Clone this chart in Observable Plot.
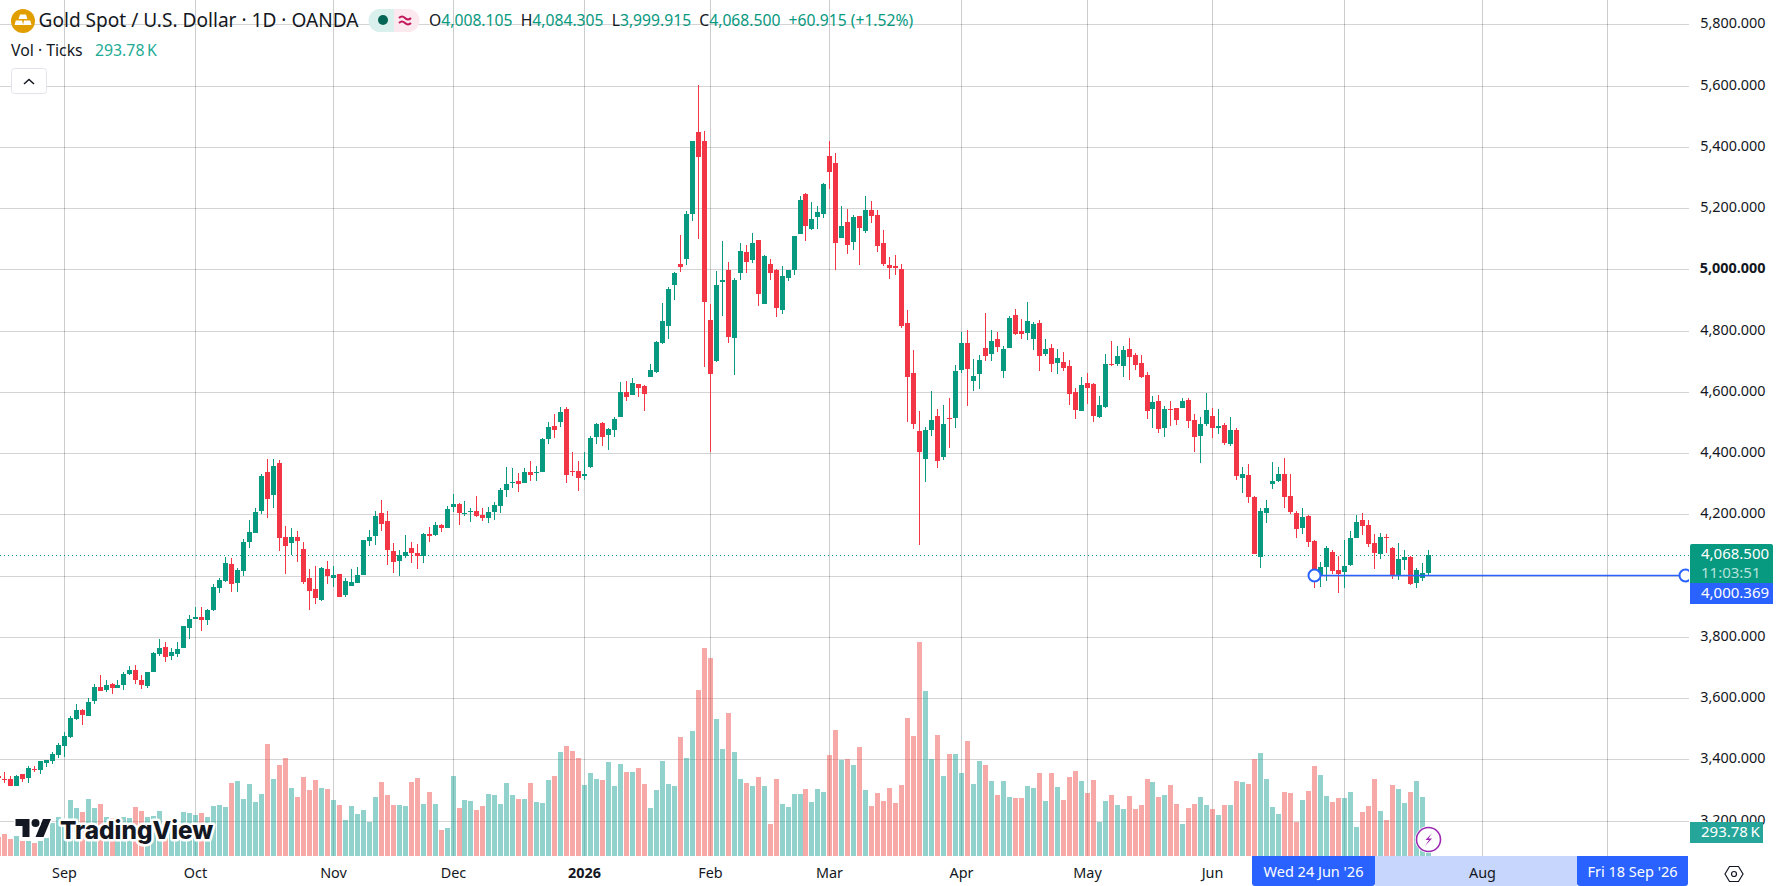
<!DOCTYPE html>
<html><head><meta charset="utf-8">
<script src="https://cdn.jsdelivr.net/npm/d3@7"></script>
<script src="https://cdn.jsdelivr.net/npm/@observablehq/plot@0.6"></script>
<style>
html,body{margin:0;padding:0;background:#fff;width:1776px;height:886px;overflow:hidden;font-family:"Noto Sans",sans-serif;color:#131722}
#wrap{position:relative;width:1776px;height:886px;overflow:hidden}
#chart{position:absolute;left:0;top:0;z-index:1}
#chart svg{background:transparent;display:block}
.ov{position:absolute;white-space:nowrap;z-index:2}
.band{position:absolute;z-index:0;left:1375px;top:856px;width:202px;height:30px;background:#c7d6fc}
.pill{position:absolute;z-index:2;top:856px;height:30px;line-height:30px;background:#2962ff;color:#fff;font-size:14.5px;text-align:center;border-radius:0 0 3px 3px}
.tag{position:absolute;z-index:2;left:1690px;color:#fff;font-size:15px;padding-left:11px;box-sizing:border-box;white-space:nowrap}
</style></head><body>
<div id="wrap">
<div class="band"></div>
<div id="chart"></div>

<svg class="ov" style="left:11px;top:9px" width="24" height="24" viewBox="0 0 24 24"><circle cx="12" cy="12" r="12" fill="#e09e00"/><path d="M9 5.500h6l1.400 4.500H7.600z M4.800 11.500h6.300l1 4.500H3.600z M13 11.500h6.200l1.300 4.500H12z" fill="#fff"/></svg>
<div class="ov" style="left:38.500px;top:8px;font-size:19.100px;line-height:24px">Gold Spot / U.S. Dollar · 1D · OANDA</div>
<svg class="ov" style="left:369px;top:9px;overflow:visible" width="50" height="23" viewBox="0 0 50 23"><path d="M11 0H25V23H11A11 11 0 0 1 11 0Z" fill="#d9f0ec"/><path d="M25 0H39A11 11 0 0 1 39 23H25Z" fill="#fce8ef"/><circle cx="14" cy="11" r="5" fill="#056656"/><path d="M30 9q3-3 6 0t6 0M30 14q3-3 6 0t6 0" fill="none" stroke="#c2185b" stroke-width="2"/></svg>
<div class="ov" style="left:429px;top:9px;font-size:15.700px;line-height:22px;color:#089981"><span style="color:#131722">O</span>4,008.105&nbsp;&nbsp;<span style="color:#131722">H</span>4,084.305&nbsp;&nbsp;<span style="color:#131722">L</span>3,999.915&nbsp;&nbsp;<span style="color:#131722">C</span>4,068.500&nbsp;&nbsp;+60.915 (+1.52%)</div>
<div class="ov" style="left:11px;top:39px;font-size:15.800px;line-height:22px">Vol · Ticks</div>
<div class="ov" style="left:95px;top:39px;font-size:15.800px;line-height:22px;color:#22ab94">293.78&#8201;K</div>
<svg class="ov" style="left:11px;top:68px" width="36" height="26" viewBox="0 0 36 26"><rect x=".5" y=".5" width="35" height="25" rx="3" fill="#fff" stroke="#e0e3eb"/><path d="M13 16l5-4.500L23 16" fill="none" stroke="#131722" stroke-width="1.500"/></svg>

<svg class="ov" style="left:15px;top:815px;overflow:visible" width="37" height="28" viewBox="0 0 36 28"><path d="M14 22H7V11H0V4h14v18zM28 22h-8l7.500-18h8L28 22z" fill="#131722" stroke="#fff" stroke-width="3" paint-order="stroke"/><circle cx="20" cy="8" r="4" fill="#131722" stroke="#fff" stroke-width="3" paint-order="stroke"/></svg>
<svg class="ov" style="left:58px;top:811px;overflow:visible" width="160" height="40"><text x="2" y="28" font-family="Inter" font-weight="800" font-size="24.300" fill="#131722" stroke="#fff" stroke-width="5" stroke-linejoin="round" paint-order="stroke">TradingView</text></svg>

<svg class="ov" style="left:1414px;top:825px" width="29" height="29" viewBox="0 0 29 29"><circle cx="14.500" cy="14.500" r="13.500" fill="#fff"/><circle cx="14.500" cy="14.500" r="12" fill="#fff" stroke="#9c27b0" stroke-width="1.600"/><path d="M18 8l-6.500 7H15l-4 6 7-7.500h-3.500z" fill="#9c27b0"/></svg>

<div class="tag" style="top:544px;height:39px;width:83px;background:#089981;border-radius:2px 2px 0 0;line-height:19px;padding-top:0">4,068.500<br><span style="color:#b5e2da">11:03:51</span></div>
<div class="tag" style="top:583px;height:21px;width:83px;background:#2962ff;line-height:18px">4,000.369</div>
<div class="tag" style="top:822px;height:21px;width:73px;background:#26a69a;line-height:19px">293.78&#8201;K</div>

<div class="pill" style="left:1252px;width:123px">Wed 24 Jun '26</div>
<div class="pill" style="left:1577px;width:111px">Fri 18 Sep '26</div>
<svg class="ov" style="left:1724px;top:864px" width="20" height="20" viewBox="0 0 20 20"><path d="M5.500 2.500h9L19 10l-4.500 7.500h-9L1 10z" fill="none" stroke="#131722" stroke-width="1.200"/><circle cx="10" cy="10" r="2.500" fill="none" stroke="#131722" stroke-width="1.200"/></svg>
</div>
<script>
const opens=[3345,
3336,3334,3312,3351,3338,3369,3365,3389,3394,3414,
3443,3472,3531,3561,3541,3590,3636,3626,3646,3633,
3642,3678,3691,3659,3639,3685,3744,3767,3737,3744,
3763,3829,3858,3865,3855,3888,3960,3983,4038,3976,
4015,4110,4139,4211,4339,4264,4368,4126,4107,4126,
4087,3992,3956,3920,4022,3992,4005,3937,3966,3976,
4002,4113,4130,4205,4179,4081,4048,4064,4090,4074,
4064,4136,4133,4166,4156,4224,4234,4201,4208,4211,
4198,4188,4208,4227,4280,4303,4310,4303,4339,4336,
4339,4447,4489,4502,4544,4342,4342,4326,4355,4453,
4499,4460,4476,4518,4600,4590,4626,4620,4649,4665,
4760,4815,4949,5017,5034,5180,5448,5418,4835,4701,
4959,4998,4776,4988,5056,5030,5096,4887,5017,4998,
4867,4972,4998,5115,5246,5131,5171,5180,5370,5347,
5102,5154,5089,5174,5125,5193,5177,5086,5014,5011,
5001,4824,4661,4471,4380,4475,4520,4386,4514,4514,
4670,4759,4635,4657,4742,4723,4772,4667,4742,4850,
4798,4791,4772,4824,4723,4742,4693,4697,4683,4599,
4537,4628,4625,4517,4550,4690,4690,4683,4739,4719,
4693,4654,4543,4569,4481,4543,4546,4546,4572,4507,
4455,4494,4520,4481,4491,4429,4475,4318,4328,4256,
4060,4203,4298,4308,4331,4259,4203,4155,4194,4112,
4001,4027,4077,4018,4012,4035,4123,4182,4165,4106,
4070,4126,4090,4002,4051,4061,3976,3992,4008.105];
const highs=[3350,
3358,3345,3350,3351,3378,3378,3394,3399,3423,3453,
3490,3541,3580,3565,3600,3646,3675,3659,3648,3659,
3685,3705,3708,3675,3685,3750,3793,3783,3763,3783,
3835,3871,3898,3898,3891,3973,3992,4061,4058,4025,
4119,4182,4221,4332,4381,4381,4378,4162,4156,4146,
4110,4022,4032,4028,4048,4032,4005,3992,4022,4028,
4117,4149,4211,4247,4211,4107,4084,4133,4110,4104,
4139,4159,4176,4169,4228,4266,4237,4244,4221,4260,
4221,4224,4240,4286,4355,4352,4336,4352,4375,4359,
4450,4502,4528,4551,4551,4404,4375,4404,4456,4499,
4502,4483,4518,4632,4636,4646,4626,4623,4691,4766,
4890,4942,4991,5112,5190,5418,5601,5451,4887,4995,
5092,5024,4972,5086,5079,5118,5096,5047,5034,5001,
5011,4998,5109,5239,5249,5220,5206,5282,5418,5379,
5206,5197,5177,5174,5239,5223,5193,5128,5040,5047,
5017,4866,4736,4537,4484,4602,4543,4556,4579,4687,
4794,4801,4706,4719,4857,4801,4795,4749,4847,4870,
4837,4892,4827,4834,4772,4755,4739,4729,4703,4612,
4648,4661,4628,4586,4723,4765,4749,4749,4775,4726,
4719,4664,4586,4589,4553,4569,4546,4579,4579,4527,
4517,4595,4546,4543,4497,4517,4481,4354,4364,4259,
4220,4246,4370,4354,4383,4331,4210,4220,4197,4115,
4044,4096,4084,4064,4116,4146,4198,4204,4182,4136,
4139,4136,4093,4106,4084,4064,4025,4041,4084.305];
const lows=[3330,
3323,3312,3312,3325,3323,3360,3351,3374,3386,3404,
3407,3469,3528,3512,3541,3580,3623,3620,3613,3633,
3626,3676,3646,3629,3633,3685,3737,3718,3724,3734,
3763,3793,3858,3819,3839,3884,3943,3979,3947,3947,
3999,4090,4139,4202,4189,4221,4081,4005,4068,4045,
3973,3888,3907,3917,3973,3963,3930,3930,3966,3976,
4002,4097,4100,4146,4035,4009,3999,4058,4041,4022,
4041,4110,4130,4143,4156,4208,4165,4195,4175,4191,
4178,4172,4182,4204,4258,4287,4274,4303,4310,4310,
4339,4430,4450,4486,4303,4326,4277,4313,4352,4430,
4424,4411,4453,4518,4571,4590,4584,4538,4649,4662,
4756,4773,4900,4991,5014,5158,5099,4681,4404,4698,
4848,4760,4655,4965,4988,5021,4880,4887,4965,4844,
4854,4962,4981,5115,5092,5128,5131,5167,5262,4998,
5102,5050,5063,5014,5118,5151,5056,5011,4968,4981,
4808,4501,4478,4099,4305,4455,4350,4377,4416,4481,
4661,4553,4602,4608,4700,4700,4729,4644,4742,4785,
4772,4768,4736,4667,4716,4664,4657,4667,4556,4510,
4537,4559,4501,4514,4546,4683,4683,4648,4638,4670,
4644,4510,4481,4465,4452,4488,4491,4546,4481,4403,
4367,4488,4448,4461,4426,4422,4311,4269,4236,4070,
4024,4171,4282,4305,4220,4200,4122,4135,4092,3959,
3962,3981,4005,3943,3959,4031,4123,4133,4093,4021,
4054,4074,3989,3985,4018,3969,3959,3982,3999.915];
const closes=[3338,
3331,3312,3347,3334,3371,3365,3393,3398,3417,3446,
3476,3535,3561,3544,3587,3636,3623,3642,3633,3642,
3678,3691,3659,3642,3685,3747,3763,3734,3750,3760,
3835,3858,3864,3855,3888,3963,3986,4041,3973,4018,
4110,4143,4208,4326,4251,4359,4123,4097,4126,4113,
3979,3950,3927,4025,3999,4002,3930,3983,3979,4002,
4117,4126,4195,4169,4084,4045,4068,4077,4074,4064,
4136,4130,4166,4156,4218,4234,4204,4204,4211,4195,
4188,4208,4231,4280,4300,4306,4300,4339,4329,4339,
4447,4486,4476,4535,4329,4339,4320,4333,4450,4496,
4453,4479,4512,4600,4584,4629,4613,4593,4672,4763,
4831,4936,4988,5008,5180,5418,5366,4893,4659,4949,
4965,4779,4965,5060,5024,5086,4920,5043,4988,4874,
4978,4998,5109,5226,5141,5164,5187,5278,5317,5086,
5141,5079,5171,5135,5193,5174,5076,5017,5004,5004,
4814,4648,4494,4403,4475,4507,4373,4494,4510,4667,
4759,4674,4651,4703,4716,4765,4746,4739,4840,4788,
4788,4830,4821,4716,4739,4690,4710,4677,4592,4540,
4621,4612,4520,4556,4690,4687,4716,4736,4713,4687,
4648,4537,4566,4478,4543,4540,4507,4569,4504,4452,
4494,4540,4481,4488,4432,4475,4324,4331,4256,4070,
4210,4220,4308,4331,4256,4207,4151,4190,4109,4011,
4027,4089,4015,4004,4031,4123,4175,4162,4103,4074,
4126,4121,4002,4054,4061,3972,4018,4008,4068.5];
const volumes=[242,
275,213,250,188,188,163,188,229,408,488,
396,700,600,550,713,600,650,488,475,450,
488,475,613,563,488,500,563,375,375,396,
550,538,513,538,488,625,638,613,913,938,
713,900,675,775,1400,963,1138,1225,850,738,
988,825,950,850,838,700,638,450,625,525,
575,425,738,925,763,638,638,625,925,975,
650,800,650,325,350,1000,600,700,688,575,
625,775,763,650,913,763,713,713,913,675,
663,950,1000,1300,1375,1313,1225,888,1038,963,
950,1175,875,1150,1050,1050,1100,900,600,825,
1188,900,875,1488,1225,1563,2075,2600,2475,1713,
1338,1788,1300,963,913,875,988,875,400,963,
650,613,775,775,838,675,838,800,1263,1575,
1200,1213,1138,1363,825,625,788,688,850,663,
888,1725,1500,2675,2063,1213,1513,1000,1275,1275,
1038,1438,900,1188,1138,938,763,938,738,725,
725,875,850,1038,688,1038,863,700,988,1063,
938,788,950,425,688,763,638,588,750,588,
638,963,925,738,763,888,650,400,600,650,
738,638,588,513,638,638,938,925,900,1213,
1288,963,613,525,800,788,425,700,813,1125,
1013,750,675,725,725,800,363,550,625,963,
563,450,888,838,663,800,938,738,293.78];

const priceTicks=[3200,3400,3600,3800,4000,4200,4400,4600,4800,5000,5200,5400,5600,5800];
const priceLabels=[3200,3400,3600,3800,4200,4400,4600,4800,5200,5400,5600,5800];
const boldPriceLabels=[5000];
const monthGrid=[10,32,55,75,97,118,138,160,181,202,224,247,268];
const monthBars=[10,32,55,75,118,138,160,181,202,247];
const monthNames=["Sep","Oct","Nov","Dec","Feb","Mar","Apr","May","Jun","Aug"];
const yearBars=[97];
const yearNames=["2026"];
const lastPrice=4068.5;
const linePrice=4000.369;
const lineBars=[219,281];

const xDomain=[-0.64,281.68];
const yMin=3084.2, yMax=5879.3;
const volumePriceRatio=0.2612;   // volume pane shares the frame with the price pane
const up="#089981", down="#f23645", volUp="#26a69a", volDown="#ef5350";

const bars=opens.map((o,k)=>({bar:k-1,open:o,high:highs[k],low:lows[k],close:closes[k],
  volume:volumes[k],dir:closes[k]>=o?"up":"down",vdir:closes[k]>=o?"vup":"vdown"}));
const months=monthBars.map((b,k)=>({bar:b,name:monthNames[k]}));
const years=yearBars.map((b,k)=>({bar:b,name:yearNames[k]}));
const fmt=d3.format(",.3f");
const FONT='"Noto Sans",sans-serif';
const INK="#131722";

const chart=Plot.plot({
  width:1776,height:886,marginLeft:0,marginRight:87,marginTop:0,marginBottom:30,
  style:{background:"transparent",fontFamily:FONT},
  x:{domain:xDomain,round:true,axis:null},
  y:{domain:[yMin,yMax],round:true,axis:null},
  color:{domain:["up","down","vup","vdown"],range:[up,down,volUp,volDown]},
  marks:[
    Plot.ruleX(monthGrid,{x:d=>d,stroke:"#000",strokeOpacity:0.2,strokeWidth:1}),
    Plot.ruleY(priceTicks,{y:d=>d,stroke:"#000",strokeOpacity:0.17,strokeWidth:1}),
    Plot.ruleX(bars,{x:"bar",y1:yMin,y2:d=>yMin+d.volume*volumePriceRatio,stroke:"vdir",strokeOpacity:0.5,strokeWidth:5,clip:"frame"}),
    Plot.ruleY([lastPrice],{y:d=>d,stroke:up,strokeWidth:1,strokeDasharray:"1 3"}),
    Plot.ruleX(bars,{x:"bar",y1:"low",y2:"high",stroke:"dir",strokeWidth:1,clip:"frame"}),
    Plot.ruleX(bars,{x:"bar",y1:"open",y2:"close",stroke:"dir",strokeWidth:5,clip:"frame"}),
    Plot.ruleY([linePrice],{y:d=>d,x1:lineBars[0],x2:lineBars[1],stroke:"#2962ff",strokeWidth:1.5,clip:"frame"}),
    Plot.dot(lineBars,{x:d=>d,y:()=>linePrice,r:6,fill:"#fff",stroke:"#2962ff",strokeWidth:2,clip:"frame"}),
    Plot.text(priceLabels,{y:d=>d,frameAnchor:"right",dx:76,dy:-1.5,textAnchor:"end",fill:INK,fontSize:14.4,text:d=>fmt(d)}),
    Plot.text(boldPriceLabels,{y:d=>d,frameAnchor:"right",dx:76,dy:-1.5,textAnchor:"end",fill:INK,fontSize:14.4,fontWeight:700,text:d=>fmt(d)}),
    Plot.text(months,{x:"bar",text:"name",frameAnchor:"bottom",lineAnchor:"middle",dy:17,fill:INK,fontSize:14.4}),
    Plot.text(years,{x:"bar",text:"name",frameAnchor:"bottom",lineAnchor:"middle",dy:17,fill:INK,fontSize:14.4,fontWeight:700})
  ]
});
document.getElementById("chart").appendChild(chart);
</script>
</body></html>
